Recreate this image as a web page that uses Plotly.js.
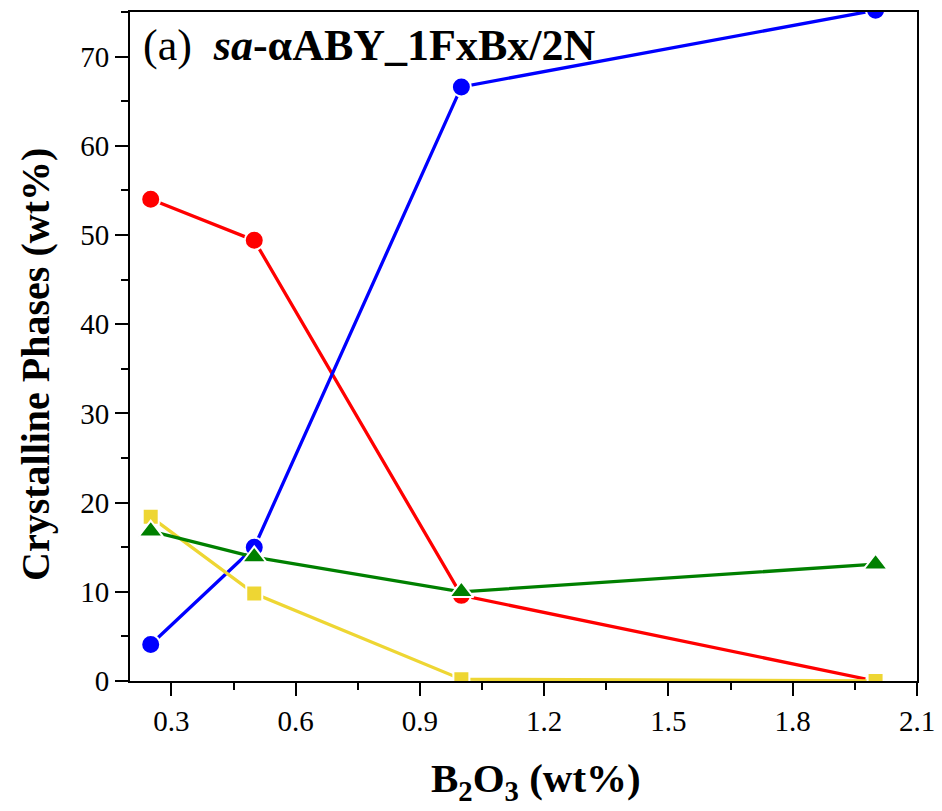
<!DOCTYPE html>
<html>
<head>
<meta charset="utf-8">
<script src="https://cdn.plot.ly/plotly-3.0.1.min.js"></script>
<style>html,body{margin:0;padding:0;background:#fff;}#chart{width:942px;height:811px;}</style>
</head>
<body>
<div id="chart"></div>
<script>
const b2o3 = [0.25, 0.5, 1.0, 2.0];
const seriesRed = [54.0, 49.4, 9.6, 0.0];
const seriesBlue = [4.1, 15.0, 66.6, 75.2];
const seriesYellow = [18.4, 9.8, 0.2, 0.0];
const seriesGreen = [16.8, 13.9, 10.0, 13.1];
const xTickVals = [0.3, 0.6, 0.9, 1.2, 1.5, 1.8, 2.1];
const xTickText = ["0.3", "0.6", "0.9", "1.2", "1.5", "1.8", "2.1"];
const yTickVals = [0, 10, 20, 30, 40, 50, 60, 70];

const font = "Liberation Serif, Times New Roman, serif";
function tr(y, color, symbol, size) {
  return {
    x: b2o3, y: y, type: "scatter", mode: "lines+markers",
    line: {color: color, width: 3.3},
    marker: {color: color, symbol: symbol, size: size, line: {color: "#ffffff", width: 2}},
    showlegend: false
  };
}
const data = [
  tr(seriesRed, "#ff0000", "circle", 19),
  tr(seriesBlue, "#0000ff", "circle", 19),
  tr(seriesYellow, "#eed633", "square", 16),
  tr(seriesGreen, "#008000", "triangle-up", 21)
];
const axisCommon = {
  showgrid: false, zeroline: false, showline: true, linecolor: "#000", linewidth: 2,
  mirror: true, ticks: "outside", ticklen: 13, tickwidth: 2, tickcolor: "#000",
  tickfont: {family: font, size: 29, color: "#000"}, automargin: false
};
const layout = {
  width: 942, height: 811,
  margin: {l: 130, r: 25, t: 12, b: 130},
  paper_bgcolor: "#fff", plot_bgcolor: "#fff",
  xaxis: Object.assign({}, axisCommon, {
    range: [0.2, 2.1], tickvals: xTickVals, ticktext: xTickText,
    minor: {dtick: 0.15, tick0: 0.15, ticks: "outside", ticklen: 7, tickwidth: 2, tickcolor: "#000"}
  }),
  yaxis: Object.assign({}, axisCommon, {
    range: [0, 75], tickvals: yTickVals,
    minor: {dtick: 5, tick0: 0, ticks: "outside", ticklen: 7, tickwidth: 2, tickcolor: "#000"}
  }),
  annotations: [{
    xref: "paper", yref: "paper", x: 0.014, y: 0.95, xanchor: "left", yanchor: "middle",
    text: "(a)  <b><i>sa</i>-αABY_1FxBx/2N</b>", showarrow: false,
    font: {family: font, size: 44, color: "#000"}
  }, {
    xref: "paper", yref: "paper", x: (536 - 130) / 787, y: -0.15, xanchor: "center", yanchor: "middle",
    text: "<b>B<sub>2</sub>O<sub>3</sub> (wt%)</b>", showarrow: false,
    font: {family: font, size: 41, color: "#000"}
  }, {
    xref: "paper", yref: "paper", x: (35 - 130) / 787, y: (681 - 365) / 669, xanchor: "center", yanchor: "middle",
    textangle: -90,
    text: "<b>Crystalline Phases (wt%)</b>", showarrow: false,
    font: {family: font, size: 40, color: "#000"}
  }]
};
Plotly.newPlot("chart", data, layout, {staticPlot: true});
</script>
</body>
</html>
